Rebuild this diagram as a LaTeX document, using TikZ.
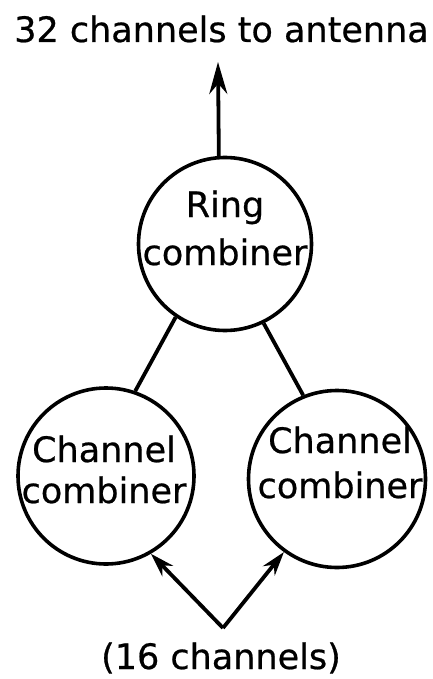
\documentclass[tikz,border=0pt]{standalone}
\usepackage{fontspec}
\setmainfont[FakeBold=0.6]{DejaVu Sans}
\usetikzlibrary{arrows.meta}
\begin{document}
\begin{tikzpicture}[x=1pt,y=-1pt,
  circ/.style={draw=black,circle,line width=3.6pt,inner sep=0pt,minimum size=#1},
  txt/.style={anchor=base,inner sep=0pt,font=\fontsize{35}{42}\selectfont},
  conn/.style={line width=3.8pt,draw=black},
  arr/.style={conn,-{Stealth[length=32pt,width=18pt]}},
  arrs/.style={conn,-{Stealth[length=24pt,width=15pt]}}
]
\useasboundingbox[fill=white] (0,0) rectangle (433,679);
\node[txt] (title) at (221.5,42) {32 channels to antenna};
\node[circ=173pt] (ring) at (225,244) {};
\node[txt] (ringA) at (225,217) {Ring};
\node[txt] (ringB) at (225,265) {combiner};
\node[circ=176pt] (left) at (106,476) {};
\node[txt] (leftA) at (104,462) {Channel};
\node[txt] (leftB) at (104,503) {combiner};
\node[circ=177pt] (right) at (337,479) {};
\node[txt] (rightA) at (340,453) {Channel};
\node[txt] (rightB) at (340,498) {combiner};
\node[txt] (bottom) at (221,669) {(16 channels)};
\coordinate (top) at (218,62);
\coordinate (v) at (223,628);
\draw[arr] (ring.94) -- (top);
\draw[conn] (ring.236) -- (left.71);
\draw[conn] (ring.296) -- (right.112);
\draw[arrs] (v) -- (left.300);
\draw[arrs] (v) -- (right.234);
\end{tikzpicture}
\end{document}
